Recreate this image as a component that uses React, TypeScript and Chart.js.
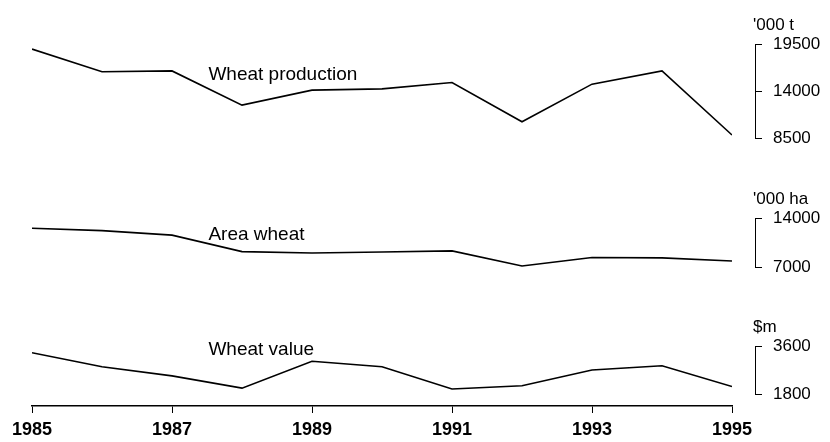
import React, { useEffect, useRef } from "react";
import { Chart, registerables } from "chart.js";

Chart.register(...registerables);

const years = [1985, 1986, 1987, 1988, 1989, 1990, 1991, 1992, 1993, 1994, 1995];
const wheatProduction = [18900, 16250, 16350, 12350, 14100, 14250, 15000, 10400, 14800, 16350, 8850];
const areaWheat = [12530, 12200, 11550, 9200, 9000, 9150, 9300, 7150, 8350, 8300, 7850];
const wheatValue = [3350, 2820, 2480, 2020, 3030, 2820, 1985, 2110, 2700, 2860, 2080];

const xTicks = [1985, 1987, 1989, 1991, 1993, 1995];
const productionTicks = [8500, 14000, 19500];
const areaTicks = [7000, 14000];
const valueTicks = [1800, 3600];

const seriesNames = ["Wheat production", "Area wheat", "Wheat value"];
const unitNames = ["'000 t", "'000 ha", "$m"];
const nameYears = [1987.52, 1987.52, 1987.52];
const nameValues = [15900, 11570, 3470];

const FONT = "'Liberation Sans', Arial, Helvetica, sans-serif";
const axisIds = ["yProd", "yArea", "yVal"];

function panelAxis(ticksArr: number[], weight: number) {
  return {
    type: "linear",
    position: "right",
    stack: "v",
    stackWeight: weight,
    min: ticksArr[0],
    max: ticksArr[ticksArr.length - 1],
    afterBuildTicks: (s: any) => {
      s.ticks = ticksArr.map((v) => ({ value: v }));
    },
    afterFit: (s: any) => {
      s.width = 75;
    },
    grid: {
      display: true,
      drawOnChartArea: false,
      drawTicks: true,
      tickLength: 7,
      color: "#000",
      lineWidth: 1,
    },
    border: { display: true, color: "#000", width: 1 },
    ticks: {
      color: "#000",
      font: { family: FONT, size: 17 },
      padding: 11,
      autoSkip: false,
      callback: (v: any) => String(v),
    },
  };
}

function gapAxis(weight: number) {
  return {
    type: "linear",
    position: "right",
    stack: "v",
    stackWeight: weight,
    display: true,
    grid: { display: false, drawTicks: false },
    border: { display: false },
    ticks: { display: false },
    afterFit: (s: any) => {
      s.width = 0;
    },
  };
}

const textPlugin = {
  id: "panelText",
  afterDraw(chart: any) {
    const ctx = chart.ctx;
    const xs = chart.scales.x;
    ctx.save();
    ctx.fillStyle = "#000";
    ctx.textAlign = "left";
    ctx.textBaseline = "middle";
    ctx.font = `19px ${FONT}`;
    axisIds.forEach((id, i) => {
      const ys = chart.scales[id];
      ctx.fillText(seriesNames[i], xs.getPixelForValue(nameYears[i]), ys.getPixelForValue(nameValues[i]));
    });
    ctx.font = `17px ${FONT}`;
    axisIds.forEach((id, i) => {
      const ys = chart.scales[id];
      ctx.fillText(unitNames[i], ys.left - 2, ys.top - 19);
    });
    ctx.restore();
  },
};

export default function App() {
  const ref = useRef<HTMLCanvasElement | null>(null);

  useEffect(() => {
    if (!ref.current) return;
    const mk = (vals: number[]) => years.map((y, i) => ({ x: y, y: vals[i] }));
    const lineStyle = {
      borderColor: "#000",
      borderWidth: 1.6,
      pointRadius: 0,
      tension: 0,
      fill: false,
    };
    const chart = new Chart(ref.current, {
      type: "line",
      data: {
        datasets: [
          { label: seriesNames[0], data: mk(wheatProduction), yAxisID: "yProd", ...lineStyle },
          { label: seriesNames[1], data: mk(areaWheat), yAxisID: "yArea", ...lineStyle },
          { label: seriesNames[2], data: mk(wheatValue), yAxisID: "yVal", ...lineStyle },
        ],
      },
      options: {
        animation: false,
        responsive: true,
        maintainAspectRatio: false,
        layout: { padding: { left: 32, top: 44, right: 0, bottom: 0 } },
        plugins: { legend: { display: false }, tooltip: { enabled: false } },
        scales: {
          x: {
            type: "linear",
            position: "bottom",
            min: years[0],
            max: years[years.length - 1],
            afterBuildTicks: (s: any) => {
              s.ticks = xTicks.map((v) => ({ value: v }));
            },
            afterFit: (s: any) => {
              s.height = 36;
            },
            grid: {
              display: true,
              drawOnChartArea: false,
              drawTicks: true,
              tickLength: 7,
              color: "#000",
              lineWidth: 1,
            },
            border: { display: true, color: "#000", width: 1.5 },
            ticks: {
              color: "#000",
              font: { family: FONT, size: 18, weight: "bold" },
              padding: 6,
              autoSkip: false,
              maxRotation: 0,
              callback: (v: any) => String(v),
            },
          },
          yPad: {
            type: "linear",
            position: "right",
            display: true,
            grid: { display: false, drawTicks: false },
            border: { display: false },
            ticks: { display: false },
            afterFit: (s: any) => {
              s.width = 23;
            },
          },
          yProd: panelAxis(productionTicks, 94),
          gap1: gapAxis(80),
          yArea: panelAxis(areaTicks, 49),
          gap2: gapAxis(79),
          yVal: panelAxis(valueTicks, 48),
          gap3: gapAxis(12),
        } as any,
      },
      plugins: [textPlugin],
    } as any);
    return () => chart.destroy();
  }, []);

  return (
    <div style={{ position: "fixed", left: 0, top: 0, width: 830, height: 442, background: "#fff" }}>
      <canvas ref={ref} />
    </div>
  );
}
